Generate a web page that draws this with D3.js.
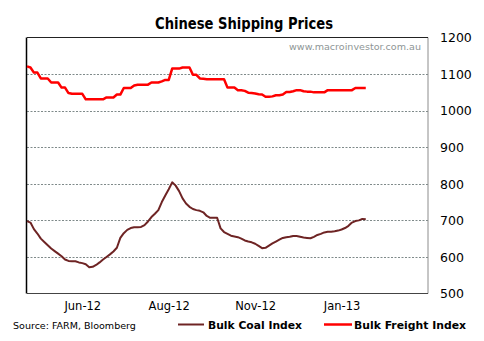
<!DOCTYPE html>
<html><head><meta charset="utf-8">
<script src="https://cdn.jsdelivr.net/npm/d3@7"></script>
<style>body{margin:0;background:#fff}svg{display:block}</style>
</head><body>
<svg id="c" width="484" height="341"></svg>
<script>
const title = "Chinese Shipping Prices";
const watermark = "www.macroinvestor.com.au";
const source = "Source: FARM, Bloomberg";
const seriesNames = ["Bulk Coal Index", "Bulk Freight Index"];
const yTicks = [500, 600, 700, 800, 900, 1000, 1100, 1200];
const xTickLabels = ["Jun-12", "Aug-12", "Nov-12", "Jan-13"];
const xTickIndex = [16, 41, 66, 91];
const totalSlots = 116;

const coal = [698,694,676,664,650,641,632,623,616,609,602,593,589,588,588,585,583,580,572,573,
578,585,593,600,607,615,625,652,665,674,679,681,681,682,687,697,709,718,728,750,
768,785,804,795,780,760,746,737,731,728,726,722,712,707,707,707,678,668,663,658,
656,654,650,645,642,640,636,630,624,625,631,637,642,647,652,654,655,657,657,655,
653,652,651,655,660,663,667,669,669,670,672,675,679,685,694,698,700,704,703];

const freight = [1121,1118,1104,1104,1088,1088,1088,1077,1077,1077,1063,1063,1048,1046,1046,1046,1046,1031,1031,1031,
1031,1031,1031,1036,1036,1036,1044,1044,1062,1062,1062,1069,1071,1071,1071,1071,1077,1077,1077,1080,
1084,1084,1115,1115,1115,1118,1118,1118,1098,1098,1088,1087,1086,1086,1086,1086,1086,1086,1063,1063,
1063,1056,1056,1054,1049,1048,1047,1045,1044,1038,1038,1039,1042,1042,1044,1051,1051,1053,1056,1056,
1053,1052,1052,1050,1050,1050,1050,1056,1056,1056,1056,1056,1056,1056,1056,1062,1062,1062,1062];

const colors = ["#6e2424", "#ff0000"];
const svg = d3.select("#c");
const m = {l: 27, r: 428, t: 37.5, b: 293.5};
const x = d3.scaleLinear().domain([0, totalSlots]).range([m.l, m.r]);
const y = d3.scaleLinear().domain([500, 1200]).range([m.b, m.t]);
const FF = "Tahoma, 'DejaVu Sans', Verdana, sans-serif";

function fit(sel, w) {
  const n = sel.node();
  const fs = parseFloat(sel.attr("font-size"));
  const cw = n.getComputedTextLength();
  if (cw > 0) sel.attr("font-size", (fs * w / cw).toFixed(2));
  return sel;
}
function squeeze(sel, w) {
  sel.attr("textLength", w).attr("lengthAdjust", "spacingAndGlyphs");
  return sel;
}

// gridlines
svg.append("g").selectAll("line").data(yTicks.filter(v => v > 500 && v < 1200)).join("line")
  .attr("x1", m.l).attr("x2", m.r)
  .attr("y1", d => Math.round(y(d)) + 0.5).attr("y2", d => Math.round(y(d)) + 0.5)
  .attr("stroke", "#7f8a8a").attr("stroke-width", 1).attr("stroke-dasharray", "2,1.5");

// plot frame
svg.append("line").attr("x1", m.r).attr("x2", m.r).attr("y1", m.t).attr("y2", m.b)
  .attr("stroke", "#8c8c8c").attr("stroke-width", 1);
svg.append("line").attr("x1", m.l).attr("x2", m.r).attr("y1", m.t).attr("y2", m.t)
  .attr("stroke", "#222").attr("stroke-width", 1);
svg.append("line").attr("x1", m.l).attr("x2", m.r).attr("y1", m.b).attr("y2", m.b)
  .attr("stroke", "#444").attr("stroke-width", 1);
svg.append("line").attr("x1", m.l - 0.5).attr("x2", m.l - 0.5).attr("y1", m.t).attr("y2", m.b)
  .attr("stroke", "#000").attr("stroke-width", 1.5);

// right axis
const yAxis = d3.axisRight(y).tickValues(yTicks).tickSize(0).tickPadding(0).tickFormat(d3.format("d"));
const ya = svg.append("g").attr("transform", `translate(440,0)`).call(yAxis);
ya.select(".domain").remove();
ya.selectAll("text").attr("font-family", FF).attr("font-size", 12.5).attr("fill", "#000").attr("dy", "0.34em");

// bottom axis labels
const xAxis = d3.axisBottom(x).tickValues(xTickIndex).tickSize(0).tickPadding(0)
  .tickFormat((d, i) => xTickLabels[i]);
const xa = svg.append("g").attr("transform", `translate(0,302)`).call(xAxis);
xa.select(".domain").remove();
xa.selectAll("text").attr("font-family", FF).attr("font-size", 11.5).attr("fill", "#000").attr("dy", "0.71em");

// lines
const line = d3.line().x((d, i) => x(i)).y(d => y(d));
svg.append("path").datum(coal).attr("d", line).attr("fill", "none")
  .attr("stroke", colors[0]).attr("stroke-width", 2).attr("stroke-linejoin", "round");
svg.append("path").datum(freight).attr("d", line).attr("fill", "none")
  .attr("stroke", colors[1]).attr("stroke-width", 2.5).attr("stroke-linejoin", "round");

// title
const t = svg.append("text").attr("x", 155).attr("y", 29)
  .attr("font-family", FF).attr("font-weight", "bold").attr("font-size", 15).text(title);
squeeze(t, 178);

// watermark
const w = svg.append("text").attr("x", 421).attr("y", 49.5).attr("text-anchor", "end")
  .attr("font-family", FF).attr("font-size", 11).attr("fill", "#8e9696").text(watermark);
fit(w, 132);

// source
const s = svg.append("text").attr("x", 13).attr("y", 329).attr("font-family", FF)
  .attr("font-size", 11.5).attr("fill", "#000").text(source);
fit(s, 123);

// legend
const leg = [
  {x1: 178, x2: 204, tx: 208, w: 94},
  {x1: 324, x2: 352, tx: 354, w: 112}
];
leg.forEach((L, i) => {
  svg.append("line").attr("x1", L.x1).attr("x2", L.x2).attr("y1", 324.5).attr("y2", 324.5)
    .attr("stroke", colors[i]).attr("stroke-width", i ? 2.5 : 2);
  const lt = svg.append("text").attr("x", L.tx).attr("y", 329).attr("font-family", FF)
    .attr("font-weight", "bold").attr("font-size", 12.5).attr("fill", "#000").text(seriesNames[i]);
  fit(lt, L.w);
});
</script>
</body></html>
